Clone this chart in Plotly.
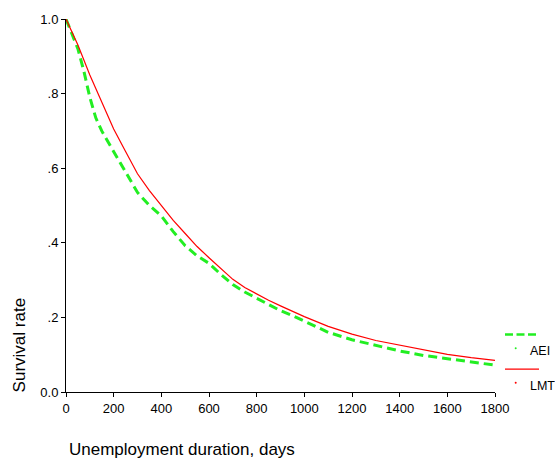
import plotly.graph_objects as go

# Data (Kaplan-Meier style survival curves)
days_aei = [0, 25, 50, 75, 100, 125, 150, 175, 200, 250, 300, 350, 400, 450, 500, 550, 600,
            650, 700, 750, 800, 850, 900, 950, 1000, 1100, 1200, 1300, 1400, 1500, 1600, 1700, 1800]
surv_aei = [1.0, 0.962, 0.92, 0.86, 0.79, 0.735, 0.70, 0.672, 0.645, 0.59, 0.535, 0.50, 0.472,
            0.43, 0.392, 0.365, 0.345, 0.315, 0.288, 0.268, 0.252, 0.235, 0.218, 0.205, 0.19,
            0.16, 0.14, 0.124, 0.11, 0.098, 0.089, 0.08, 0.072]

days_lmt = [0, 25, 50, 100, 150, 200, 250, 300, 350, 400, 450, 500, 550, 600, 650, 700, 750,
            800, 850, 900, 950, 1000, 1100, 1200, 1300, 1400, 1500, 1600, 1700, 1750, 1800]
surv_lmt = [1.0, 0.965, 0.93, 0.85, 0.775, 0.705, 0.645, 0.585, 0.54, 0.50, 0.46, 0.425, 0.39,
            0.36, 0.33, 0.302, 0.28, 0.262, 0.246, 0.231, 0.216, 0.202, 0.176, 0.155, 0.138,
            0.125, 0.112, 0.101, 0.092, 0.088, 0.085]

x_ticks = [0, 200, 400, 600, 800, 1000, 1200, 1400, 1600, 1800]
y_ticks = [0.0, 0.2, 0.4, 0.6, 0.8, 1.0]
y_tick_labels = ["0.0", ".2", ".4", ".6", ".8", "1.0"]

GREEN = "#22ee22"
RED = "#ff0000"
FONT = "Liberation Sans, Arial, sans-serif"

fig = go.Figure()
fig.add_trace(go.Scatter(x=days_aei, y=surv_aei, mode="lines", name="AEI",
                         line=dict(color=GREEN, width=3, dash="9px,5px")))
fig.add_trace(go.Scatter(x=days_lmt, y=surv_lmt, mode="lines", name="LMT",
                         line=dict(color=RED, width=1.2)))

W, H = 555, 464
L, R, T, B = 66, 60, 16, 72
pw, ph = W - L - R, H - T - B

def px(x):
    return (x - L) / pw

def py(y):
    return (H - B - y) / ph

shapes = [
    dict(type="line", xref="paper", yref="paper", x0=px(505), x1=px(538), y0=py(334), y1=py(334),
         line=dict(color=GREEN, width=2.5, dash="8px,3.5px")),
    dict(type="line", xref="paper", yref="paper", x0=px(505), x1=px(539), y0=py(369), y1=py(369),
         line=dict(color=RED, width=1.2)),
    dict(type="circle", xref="paper", yref="paper", x0=px(514.7), x1=px(516.7), y0=py(349),
         y1=py(347), fillcolor=GREEN, line=dict(width=0)),
    dict(type="circle", xref="paper", yref="paper", x0=px(514.7), x1=px(516.7), y0=py(383.7),
         y1=py(381.7), fillcolor=RED, line=dict(width=0)),
]

annotations = [
    dict(text="AEI", xref="paper", yref="paper", x=px(528), y=py(351), xanchor="left",
         yanchor="middle", showarrow=False, font=dict(size=12.5, color="black", family=FONT)),
    dict(text="LMT", xref="paper", yref="paper", x=px(528), y=py(386), xanchor="left",
         yanchor="middle", showarrow=False, font=dict(size=12.5, color="black", family=FONT)),
    dict(text="Survival rate", xref="paper", yref="paper", x=px(19), y=py(345), xanchor="center",
         yanchor="middle", textangle=-90, showarrow=False,
         font=dict(size=17, color="black", family=FONT)),
    dict(text="Unemployment duration, days", xref="paper", yref="paper", x=px(67), y=py(450),
         xanchor="left", yanchor="middle", showarrow=False,
         font=dict(size=17, color="black", family=FONT)),
]

fig.update_layout(
    width=W, height=H,
    margin=dict(l=L, r=R, t=T, b=B, pad=0),
    paper_bgcolor="white", plot_bgcolor="white",
    showlegend=False,
    font=dict(family=FONT, size=13, color="black"),
    shapes=shapes, annotations=annotations,
    xaxis=dict(range=[0, 1800], tickvals=x_ticks, showgrid=False, zeroline=False,
               showline=True, linecolor="black", linewidth=1, ticks="outside", ticklen=4,
               tickcolor="black", tickfont=dict(size=13, family=FONT)),
    yaxis=dict(range=[0, 1], tickvals=y_ticks, ticktext=y_tick_labels, showgrid=False,
               zeroline=False, showline=True, linecolor="black", linewidth=1,
               ticks="outside", ticklen=4, tickcolor="black",
               tickfont=dict(size=13, family=FONT)),
)

fig.write_html("out.html", config={"displayModeBar": False},
               post_script="document.body.style.margin='0';document.body.style.overflow='hidden';")
